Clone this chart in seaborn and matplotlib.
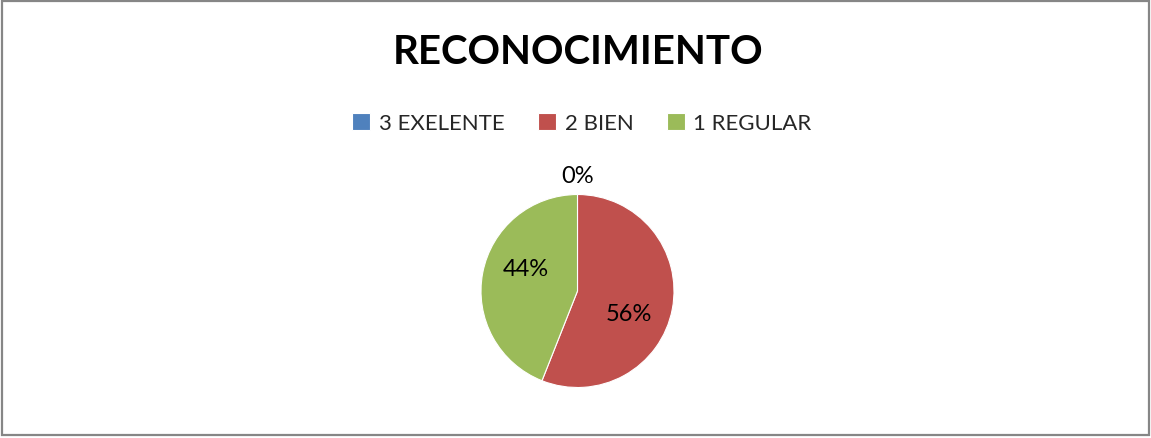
import matplotlib
matplotlib.use("Agg")
import numpy as np
import matplotlib.pyplot as plt
import seaborn as sns
from matplotlib.patches import Rectangle

sns.set_theme(style="white")
plt.rcParams['font.family'] = ['Lato', 'DejaVu Sans']

# data
categories = ["3 EXELENTE", "2 BIEN", "1 REGULAR"]
percent = [0, 56, 44]
colors = ["#4F81BD", "#C0504D", "#9BBB59"]
title = "RECONOCIMIENTO"

W, H = 1151, 439
fig = plt.figure(figsize=(W / 100, H / 100), dpi=100)

# gray chart border
fig.patches.append(Rectangle((1.5 / W, 3.5 / H), (W - 3.5) / W, (H - 5) / H,
                             transform=fig.transFigure, fill=False,
                             edgecolor="#868686", linewidth=1.6))

cx, cy, r = 577.5, H - 292, 96.5
ax = fig.add_axes([(cx - r) / W, (cy - r) / H, 2 * r / W, 2 * r / H])
wedges, texts, autotexts = ax.pie(
    percent, colors=colors, startangle=90, counterclock=False,
    autopct=lambda p: f"{p:.0f}%", pctdistance=0.58,
    textprops=dict(fontsize=17, color="black"),
    wedgeprops=dict(linewidth=0.8, edgecolor="white"))
ax.set_xlim(-1, 1)
ax.set_ylim(-1, 1)
ax.set_aspect("auto")

# the empty slice gets its label outside, above the pie;
# the others are turned a little clockwise, like Excel's best fit
rot = np.deg2rad(-13)
for val, t in zip(percent, autotexts):
    if val == 0:
        t.set_position((0, 1.2))
    else:
        x, y = t.get_position()
        t.set_position((x * np.cos(rot) - y * np.sin(rot),
                        x * np.sin(rot) + y * np.cos(rot)))

fig.text(578 / W, 1 - 52 / H, title, ha="center", va="center",
         fontsize=29, fontweight="bold", color="black")

leg = fig.legend(wedges, categories, loc="center", bbox_to_anchor=(582 / W, 1 - 124 / H),
                 ncol=3, frameon=False, fontsize=16, handlelength=0.8,
                 handleheight=0.8, handletextpad=0.4, columnspacing=1.5,
                 borderaxespad=0)

fig.savefig("out.png", dpi=100)
